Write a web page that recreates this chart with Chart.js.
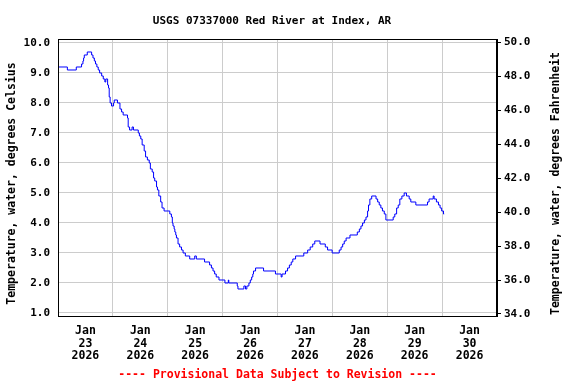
<!DOCTYPE html>
<html>
<head>
<meta charset="utf-8">
<script src="https://cdn.jsdelivr.net/npm/chart.js@4.4.1/dist/chart.umd.min.js"></script>
<style>
  html, body { margin: 0; padding: 0; background: #fff; }
  #wrap { width: 576px; height: 384px; }
</style>
</head>
<body>
<div id="wrap"><canvas id="chart" width="576" height="384"></canvas></div>
<script>
// hours since Jan 23 2026 00:00, and water temperature (deg C) from that hour on
const hoursSinceStart = [
  0, 4.1, 8.0, 10.3, 10.9, 11.2, 11.5, 12.8, 14.7, 15.3,
  15.9, 16.4, 17.0, 17.6, 18.2, 19.1, 19.8, 20.5, 20.9, 21.7,
  22.1, 22.4, 22.8, 23.4, 24.3, 24.6, 26.0, 27.1, 27.8, 28.5,
  30.4, 30.7, 31.3, 32.4, 33.0, 35.1, 35.6, 36.2, 36.8, 37.7,
  38.3, 39.1, 39.9, 40.4, 41.2, 41.8, 42.3, 43.1, 43.5, 44.1,
  44.9, 45.5, 46.4, 48.9, 49.6, 50.0, 50.3, 50.8, 51.1, 51.5,
  51.8, 52.5, 53.2, 54.0, 54.7, 55.7, 57.6, 59.8, 60.5, 64.1,
  66.3, 67.1, 67.8, 68.5, 69.2, 70.4, 73.0, 74.5, 74.7, 78.4,
  78.7, 81.3, 82.0, 82.6, 83.5, 84.1, 84.7, 85.2, 85.5, 86.4,
  89.9, 95.1, 97.6, 98.0, 99.5, 100.4, 101.2, 102.0, 102.7, 103.9,
  107.5, 109.2, 110.3, 111.4, 112.3, 114.6, 116.9, 117.9, 119.9, 123.0,
  123.8, 124.5, 125.2, 126.0, 127.7, 130.9, 131.8, 132.5, 133.2, 134.0,
  134.7, 135.4, 135.8, 136.4, 137.2, 139.1, 139.8, 140.5, 141.2, 141.9,
  142.7, 143.4, 146.6, 147.3, 148.1, 148.8, 149.5, 150.4, 151.4, 152.4,
  153.6, 154.3, 156.5, 161.6, 162.3, 164.1, 164.5, 165.5, 166.4, 167.1,
  167.8, 168.6, 168.9
];
const waterTempC = [
  9.2, 9.1, 9.2, 9.3, 9.4, 9.5, 9.6, 9.7, 9.6, 9.5,
  9.4, 9.3, 9.2, 9.1, 9.0, 8.9, 8.8, 8.7, 8.8, 8.6,
  8.5, 8.2, 8.0, 7.9, 8.0, 8.1, 8.0, 7.8, 7.7, 7.6,
  7.5, 7.2, 7.1, 7.2, 7.1, 7.0, 6.9, 6.8, 6.6, 6.4,
  6.2, 6.1, 6.0, 5.8, 5.7, 5.5, 5.4, 5.2, 5.1, 4.9,
  4.7, 4.5, 4.4, 4.3, 4.2, 4.0, 3.9, 3.8, 3.7, 3.6,
  3.5, 3.3, 3.2, 3.1, 3.0, 2.9, 2.8, 2.9, 2.8, 2.7,
  2.6, 2.5, 2.4, 2.3, 2.2, 2.1, 2.0, 2.1, 2.0, 1.9,
  1.8, 1.9, 1.8, 1.9, 2.0, 2.1, 2.2, 2.3, 2.4, 2.5,
  2.4, 2.3, 2.2, 2.3, 2.4, 2.5, 2.6, 2.7, 2.8, 2.9,
  3.0, 3.1, 3.2, 3.3, 3.4, 3.3, 3.2, 3.1, 3.0, 3.1,
  3.2, 3.3, 3.4, 3.5, 3.6, 3.7, 3.8, 3.9, 4.0, 4.1,
  4.2, 4.4, 4.6, 4.8, 4.9, 4.8, 4.7, 4.6, 4.5, 4.4,
  4.3, 4.1, 4.2, 4.3, 4.5, 4.6, 4.8, 4.9, 5.0, 4.9,
  4.8, 4.7, 4.6, 4.7, 4.8, 4.9, 4.8, 4.7, 4.6, 4.5,
  4.4, 4.3, 4.3
];

const dayLabels = ['23', '24', '25', '26', '27', '28', '29', '30'];
const monthLabel = 'Jan';
const yearLabel = '2026';
const celsiusTicks = [1, 2, 3, 4, 5, 6, 7, 8, 9, 10];
const fahrenheitTicks = [34, 36, 38, 40, 42, 44, 46, 48, 50];

const TITLE = 'USGS 07337000 Red River at Index, AR';
const FOOTER = '---- Provisional Data Subject to Revision ----';
const LEFT_TITLE = 'Temperature, water, degrees Celsius';
const RIGHT_TITLE = 'Temperature, water, degrees Fahrenheit';

const FONT = '"DejaVu Sans Mono", monospace';
const GRID = '#cccccc';

const points = hoursSinceStart.map((h, i) => ({ x: h, y: waterTempC[i] }));

// frame, title, footer and the two rotated axis titles
const decorations = {
  id: 'decorations',
  afterDraw(chart) {
    const { ctx, chartArea: a } = chart;
    ctx.save();
    ctx.strokeStyle = '#000';
    ctx.lineWidth = 1;
    ctx.strokeRect(Math.round(a.left) + 0.5, Math.round(a.top) + 0.5,
      Math.round(a.right - a.left) - 1, Math.round(a.bottom - a.top));

    ctx.fillStyle = '#000';
    ctx.textAlign = 'center';
    ctx.textBaseline = 'middle';
    ctx.font = 'bold 11px ' + FONT;
    ctx.fillText(TITLE, 272, 21);

    ctx.font = 'bold 11.5px ' + FONT;
    ctx.fillStyle = '#ff0000';
    ctx.fillText(FOOTER, 277.5, 375);

    ctx.fillStyle = '#000';
    [[12, LEFT_TITLE], [556, RIGHT_TITLE]].forEach(([x, txt]) => {
      ctx.save();
      ctx.translate(x, 183.5);
      ctx.rotate(-Math.PI / 2);
      ctx.fillText(txt, 0, 0);
      ctx.restore();
    });
    ctx.restore();
  }
};

new Chart(document.getElementById('chart'), {
  type: 'line',
  data: {
    datasets: [{
      data: points,
      borderColor: '#0000ff',
      borderWidth: 1,
      pointRadius: 0,
      stepped: 'before',
      fill: false,
      yAxisID: 'y'
    }]
  },
  options: {
    responsive: false,
    animation: false,
    devicePixelRatio: 1,
    layout: { padding: { top: 39, left: 0, right: 0, bottom: 0 } },
    plugins: { legend: { display: false }, tooltip: { enabled: false } },
    scales: {
      x: {
        type: 'linear',
        min: 0,
        max: 192,
        afterFit: s => { s.height = 68; },
        afterBuildTicks: s => {
          s.ticks = [];
          for (let v = 0; v <= 192; v += 12) s.ticks.push({ value: v });
        },
        grid: {
          color: c => (c.tick && c.tick.value % 24 === 0) ? GRID : 'rgba(0,0,0,0)',
          drawTicks: false
        },
        border: { color: '#000' },
        ticks: {
          autoSkip: false,
          maxRotation: 0,
          padding: 9,
          color: '#000',
          font: { family: FONT, size: 11.5, weight: 'bold', lineHeight: 1.09 },
          callback: v => v % 24 === 12 ? [monthLabel, dayLabels[(v - 12) / 24], yearLabel] : ''
        }
      },
      y: {
        position: 'left',
        min: 0.9,
        max: 10.133,
        afterFit: s => { s.width = 58; },
        afterBuildTicks: s => { s.ticks = celsiusTicks.map(v => ({ value: v })); },
        grid: { color: GRID, drawTicks: false },
        border: { color: '#000' },
        ticks: {
          padding: 8,
          color: '#000',
          font: { family: FONT, size: 11, weight: 'bold' },
          callback: v => v.toFixed(1)
        }
      },
      y2: {
        position: 'right',
        min: 33.88,
        max: 50.206,
        afterFit: s => { s.width = 79; },
        afterBuildTicks: s => { s.ticks = fahrenheitTicks.map(v => ({ value: v })); },
        grid: { drawOnChartArea: false, drawTicks: true, tickLength: 4, color: '#000' },
        border: { color: '#000' },
        ticks: {
          padding: 3,
          color: '#000',
          font: { family: FONT, size: 11, weight: 'bold' },
          callback: v => v.toFixed(1)
        }
      }
    }
  },
  plugins: [decorations]
});
</script>
</body>
</html>
